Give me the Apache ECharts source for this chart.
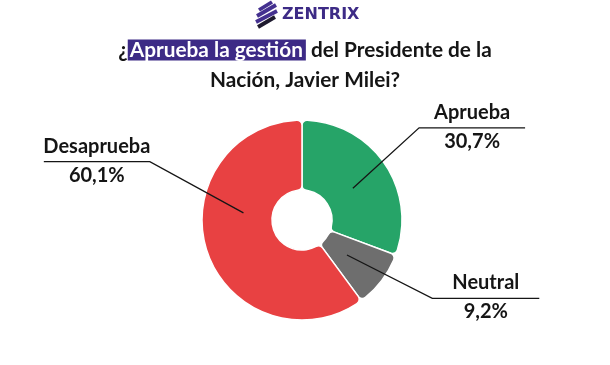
<!DOCTYPE html>
<html>
<head>
<meta charset="utf-8">
<script src="https://cdn.jsdelivr.net/npm/echarts@6/dist/echarts.min.js"></script>
<style>
  html, body { margin: 0; padding: 0; background: #ffffff; }
  #chart { width: 610px; height: 365px; }
</style>
</head>
<body>
<div id="chart"></div>
<script>
// ---- data ----
const categories = ['Aprueba', 'Neutral', 'Desaprueba'];
const values = [30.7, 9.2, 60.1];
const valueLabels = ['30,7%', '9,2%', '60,1%'];

// ---- style ----
const colors = ['#26a468', '#6e6e6e', '#e84142'];
const FONT = 'Lato, "Open Sans", sans-serif';
const CENTER = [302, 220];
// leader lines: polar anchor (angle deg, radius) for start and elbow, horizontal length
const LEADERS = [
  { a0: 32, r0: 60, a1: 38.2, r1: 149, len: 106, dir: 1 },
  { a0: -37.9, r0: 57, a1: -31, r1: 152, len: 107, dir: 1 },
  { a0: 173, r0: 59, a1: 159, r1: 163, len: 106, dir: -1 }
];
function polar(a, r) {
  const t = a * Math.PI / 180;
  return [CENTER[0] + r * Math.cos(t), CENTER[1] - r * Math.sin(t)];
}

const chart = echarts.init(document.getElementById('chart'), null, { renderer: 'canvas' });

const pieData = categories.map((c, i) => ({ name: c, value: values[i], itemStyle: { color: colors[i] } }));
const overlayData = categories.map((c, i) => ({ name: c, value: values[i] }));

chart.setOption({
  backgroundColor: '#ffffff',
  animation: false,
  title: {
    text: '{p|¿}{h|Aprueba la gestión}{p| del Presidente de la}\n{p|Nación, Javier Milei?}',
    left: 'center',
    top: 35,
    padding: 0,
    textStyle: {
      rich: {
        p: { fontSize: 20.8, fontWeight: 'bold', fontFamily: FONT, color: '#151515', lineHeight: 30 },
        h: { fontSize: 20.8, fontWeight: 'bold', fontFamily: FONT, color: '#ffffff', backgroundColor: '#3d2b86', lineHeight: 23, padding: [0, 3, 0, 2] }
      }
    }
  },
  graphic: [
    { type: 'line', shape: { x1: 259, y1: 10, x2: 272, y2: 2 }, style: { stroke: '#44308f', lineWidth: 3.8 } },
    { type: 'line', shape: { x1: 257, y1: 16, x2: 276, y2: 5 }, style: { stroke: '#44308f', lineWidth: 3.8 } },
    { type: 'line', shape: { x1: 256, y1: 22, x2: 277, y2: 11 }, style: { stroke: '#44308f', lineWidth: 3.8 } },
    { type: 'line', shape: { x1: 258, y1: 27, x2: 275, y2: 17 }, style: { stroke: '#1e1a2e', lineWidth: 3.8 } },
    { type: 'text', x: 282, y: 7, style: { text: 'ZENTRIX', fill: '#3d2b86', font: 'bold 16px "DejaVu Sans", sans-serif' } }
  ],
  series: [{
    type: 'pie',
    z: 1,
    center: CENTER,
    radius: [30, 100],
    startAngle: 90,
    clockwise: true,
    silent: true,
    itemStyle: { borderColor: '#ffffff', borderWidth: 1.5, borderRadius: 5 },
    label: { show: false },
    labelLine: { show: false },
    emphasis: { disabled: true },
    data: pieData
  }, {
    // transparent overlay (higher z) carrying labels so leader lines draw above the slices
    type: 'pie',
    z: 5,
    center: CENTER,
    radius: [30, 100],
    startAngle: 90,
    clockwise: true,
    silent: true,
    avoidLabelOverlap: false,
    itemStyle: { color: 'rgba(0,0,0,0)', borderWidth: 0 },
    label: {
      show: true,
      position: 'outside',
      formatter: p => '{n|' + p.name + '}\n{v|' + valueLabels[p.dataIndex] + '}',
      rich: {
        n: { fontSize: 20, fontWeight: 'bold', fontFamily: FONT, color: '#151515', lineHeight: 27 },
        v: { fontSize: 20, fontWeight: 'bold', fontFamily: FONT, color: '#151515', lineHeight: 31 }
      }
    },
    labelLine: { show: true, length: 20, length2: 100, lineStyle: { color: '#151515', width: 1.3, opacity: 1 } },
    labelLayout: function (params) {
      const g = LEADERS[params.dataIndex];
      const p0 = polar(g.a0, g.r0);
      const p1 = polar(g.a1, g.r1);
      const p2 = [p1[0] + g.dir * g.len, p1[1]];
      return {
        x: (p1[0] + p2[0]) / 2,
        y: p1[1],
        align: 'center',
        verticalAlign: 'middle',
        labelLinePoints: [p0, p1, p2]
      };
    },
    emphasis: { disabled: true },
    data: overlayData
  }]
});
</script>
</body>
</html>
